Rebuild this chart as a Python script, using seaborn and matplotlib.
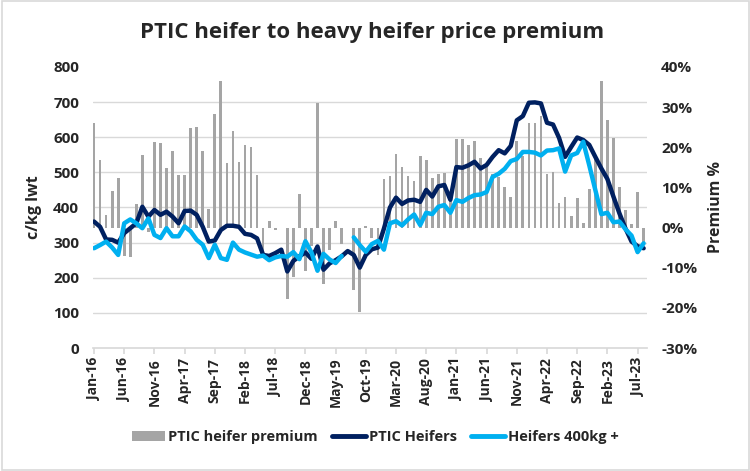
import numpy as np
import pandas as pd
import matplotlib.pyplot as plt
import seaborn as sns
from matplotlib.lines import Line2D
from matplotlib.patches import Patch, Rectangle
from matplotlib.ticker import FixedLocator, FuncFormatter

# monthly data, Jan-16 .. Aug-23
tick_labels = ['Jan-16', 'Jun-16', 'Nov-16', 'Apr-17', 'Sep-17', 'Feb-18', 'Jul-18',
               'Dec-18', 'May-19', 'Oct-19', 'Mar-20', 'Aug-20', 'Jan-21', 'Jun-21',
               'Nov-21', 'Apr-22', 'Sep-22', 'Feb-23', 'Jul-23']

# PTIC Heifers (c/kg lwt)
ptic = [360, 345, 309, 308, 300, 327, 341, 355, 402, 374,
        393, 379, 388, 374, 355, 390, 391, 379, 345, 303,
        306, 336, 348, 348, 345, 325, 322, 312, 265, 262,
        270, 280, 218, 248, 261, 272, 254, 289, 223, 241,
        250, 261, 276, 265, 229, 265, 281, 286, 340, 400,
        428, 410, 420, 422, 416, 450, 431, 460, 464, 422,
        515, 513, 520, 530, 511, 521, 544, 563, 554, 575,
        648, 660, 698, 699, 696, 641, 636, 598, 544, 572,
        599, 592, 578, 544, 511, 481, 431, 383, 340, 303,
        290, 284]

# Heifers 400kg + (c/kg lwt)
heavy = [284, 293, 303, 286, 265, 355, 366, 355, 341, 369,
         322, 313, 341, 318, 318, 346, 332, 308, 294, 256,
         294, 256, 251, 300, 280, 272, 266, 260, 263, 250,
         258, 262, 260, 273, 253, 304, 272, 220, 268, 252,
         242, 262, np.nan, 315, 293, 274, 296, 305, 280, 355,
         361, 349, 366, 380, 350, 385, 381, 402, 407, 385,
         421, 416, 427, 435, 437, 444, 487, 496, 510, 532,
         538, 558, 558, 556, 548, 562, 563, 568, 502, 548,
         555, 587, 520, 450, 381, 385, 358, 360, 338, 320,
         273, 298]

# PTIC heifer premium (%)
premium = [26.1, 16.7, 3.1, 9.1, 12.4, -7.2, -7.4, 5.9, 18.1, -1.0,
           21.3, 21.0, 14.8, 19.0, 13.0, 13.0, 24.7, 25.0, 19.1, 4.7,
           28.2, 36.6, 16.1, 24.0, 16.3, 20.6, 20.0, 13.1, -6.0, 1.6,
           -0.7, 0.0, -17.9, -12.4, 8.4, -10.7, -4.5, 30.9, -14.1, -5.6,
           1.6, -4.1, np.nan, -15.5, -20.9, 0.4, -2.7, -6.8, 12.0, 12.9,
           18.2, 15.0, 12.9, 11.6, 17.8, 16.8, 12.3, 13.3, 13.5, 7.7,
           22.0, 22.0, 20.6, 21.6, 17.2, 15.0, 13.3, 12.7, 10.0, 7.7,
           21.6, 17.7, 26.0, 26.1, 27.8, 13.3, 13.8, 6.1, 7.7, 3.0,
           7.3, 1.2, 9.5, 17.7, 36.5, 26.8, 22.4, 10.2, 4.4, 0.8,
           8.9, -3.5]

NAVY = '#002060'
LIGHT = '#00B0F0'
GREY = '#A5A5A5'
GRID = '#D9D9D9'

sns.set_theme(style='white')
plt.rcParams['font.family'] = ['Open Sans', 'DejaVu Sans']
plt.rcParams['font.weight'] = 'bold'

df = pd.DataFrame({'month': np.arange(len(ptic)), 'ptic': ptic,
                   'heavy': heavy, 'premium': premium})
df['seg'] = df['heavy'].isna().cumsum()  # keeps the gap in the heavy heifer line

fig = plt.figure(figsize=(7.5, 4.71), dpi=100)
ax = fig.add_axes([0.124, 0.261, 0.739, 0.597])
ax2 = ax.twinx()
ax.set_zorder(2)
ax2.set_zorder(1)
ax.patch.set_visible(False)

# premium bars on the right axis
sns.barplot(data=df, x='month', y='premium', ax=ax2, native_scale=True,
            color=GREY, saturation=1, width=0.45, linewidth=0)

# price lines on the left axis
sns.lineplot(data=df, x='month', y='ptic', ax=ax, color=NAVY, lw=3.2,
             errorbar=None, solid_joinstyle='round')
sns.lineplot(data=df, x='month', y='heavy', units='seg', estimator=None, ax=ax,
             color=LIGHT, lw=3.2, solid_joinstyle='round')

ax.set_ylim(0, 800)
ax.set_yticks(range(0, 801, 100))
ax2.set_ylim(-30, 40)
ax2.set_yticks(range(-30, 41, 10))
ax2.yaxis.set_major_formatter(FuncFormatter(lambda v, p: f'{v:.0f}%'))

# gridlines follow the left axis but sit behind the bars
ax.grid(False)
ax2.yaxis.set_minor_locator(FixedLocator([-30 + v * 70 / 800 for v in range(0, 801, 100)]))
ax2.grid(which='major', visible=False)
ax2.grid(which='minor', color=GRID, lw=1)
ax2.set_axisbelow(True)

ax.set_xlim(-0.17, 91.6)
ax.set_xticks(range(0, len(ptic), 5))
ax.set_xticklabels(tick_labels, rotation=90, fontsize=10, fontweight='bold')

for a in (ax, ax2):
    for s in a.spines.values():
        s.set_visible(False)
ax.spines['bottom'].set_visible(True)
ax.spines['bottom'].set_color(GRID)

ax.tick_params(axis='x', length=4, color=GRID, pad=3, bottom=True)
ax.tick_params(axis='y', length=0, labelsize=11, pad=10)
ax2.tick_params(axis='y', which='both', length=0, labelsize=11, pad=10)

ax.set_xlabel('')
ax.set_ylabel('c/kg lwt', fontsize=11.5, fontweight='bold', labelpad=8)
ax2.set_ylabel('Premium %', fontsize=11.5, fontweight='bold', labelpad=8)

fig.text(0.496, 0.932, 'PTIC heifer to heavy heifer price premium',
         ha='center', va='center', fontsize=16, fontweight='bold')

handles = [Patch(facecolor=GREY, edgecolor='none'),
           Line2D([], [], color=NAVY, lw=3.5),
           Line2D([], [], color=LIGHT, lw=3.5)]
fig.legend(handles, ['PTIC heifer premium', 'PTIC Heifers', 'Heifers 400kg +'],
           loc='center', bbox_to_anchor=(0.5, 0.072), ncol=3, frameon=False,
           handlelength=2.3, handletextpad=0.2, columnspacing=1.0,
           prop={'weight': 'bold', 'size': 10.5})

fig.patches.append(Rectangle((0.002, 0.003), 0.996, 0.994, transform=fig.transFigure,
                             fill=False, edgecolor=GRID, lw=1.2))

fig.savefig('out.png', dpi=100)
